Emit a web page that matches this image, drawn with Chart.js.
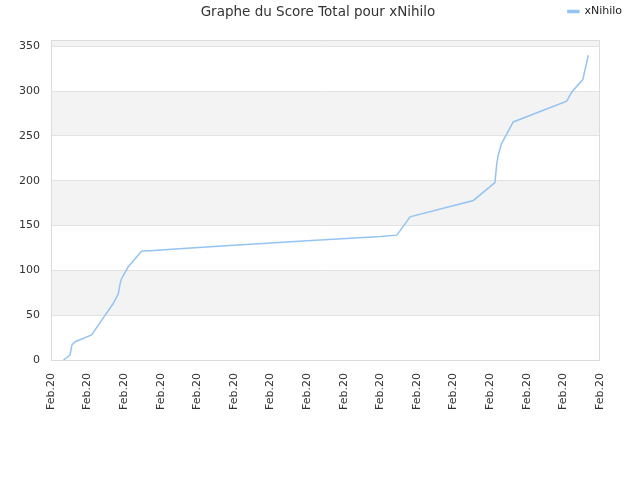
<!DOCTYPE html>
<html>
<head>
<meta charset="utf-8">
<script src="https://cdn.jsdelivr.net/npm/chart.js@4"></script>
<style>
  html, body { margin: 0; padding: 0; background: #fff; }
  #wrap { width: 640px; height: 480px; }
</style>
</head>
<body>
<div id="wrap"><canvas id="chart"></canvas></div>
<script>
// time position (in tick intervals from the first "Feb.20" label) and score
const timePos = [0.34, 0.52, 0.57, 0.66, 1.11, 1.48, 1.70, 1.84, 1.89, 1.93, 2.11, 2.48, 2.71,
  3.5, 5.0, 7.0, 9.0, 9.45, 9.81, 11.54, 12.13, 12.18, 12.22, 12.31, 12.63, 14.09, 14.23, 14.53, 14.68]
const scores = [0, 5.6, 16.7, 20.4, 27.9, 50, 63, 74, 85.5, 91, 104, 121.5, 122,
  124, 128, 133, 137.8, 139.3, 159.7, 178, 198, 219, 228.5, 241.5, 265.6, 288.7, 299, 312.8, 340]
const yTicks = [0, 50, 100, 150, 200, 250, 300, 350]
const tickCount = 16
const tickLabel = 'Feb.20'
const seriesName = 'xNihilo'
const titleText = 'Graphe du Score Total pour xNihilo'

const FONT = 'DejaVu Sans'
const LINE_COLOR = '#94c4f2'

// alternating grey bands behind the plot, plus the plot frame
const bandsPlugin = {
  id: 'bands',
  beforeDraw(chart) {
    const { ctx, chartArea, scales } = chart
    const y = scales.y
    ctx.save()
    ctx.fillStyle = '#f3f3f3'
    for (let v = 50; v < y.max; v += 100) {
      const top = y.getPixelForValue(Math.min(v + 50, y.max))
      const bottom = y.getPixelForValue(v)
      ctx.fillRect(chartArea.left, top, chartArea.right - chartArea.left, bottom - top)
    }
    ctx.restore()
  },
  afterDatasetsDraw(chart) {
    const { ctx, chartArea } = chart
    ctx.save()
    ctx.strokeStyle = '#dcdcdc'
    ctx.lineWidth = 1
    ctx.strokeRect(chartArea.left + 0.5, chartArea.top + 0.5,
      chartArea.right - chartArea.left - 1, chartArea.bottom - chartArea.top)
    ctx.restore()
  },
}

// legend sits on the title line, in the top right corner
const legendPlacement = {
  id: 'legendPlacement',
  beforeUpdate(chart) {
    const legend = chart.legend
    if (legend && !legend.__patched) {
      legend.__patched = true
      const fit = legend.fit
      legend.fit = function () {
        fit.call(this)
        this.height = 40
      }
    }
  },
  afterLayout(chart) {
    chart.legend.left += 28
    chart.legend.right += 28
  },
}

// title drawn on the same line as the legend
const titlePlugin = {
  id: 'inlineTitle',
  afterDraw(chart) {
    const { ctx } = chart
    ctx.save()
    ctx.font = '13.5px "' + FONT + '"'
    ctx.fillStyle = '#333'
    ctx.textAlign = 'center'
    ctx.textBaseline = 'middle'
    ctx.fillText(titleText, 318, 12)
    ctx.restore()
  },
}

new Chart(document.getElementById('chart'), {
  type: 'line',
  data: {
    datasets: [{
      label: seriesName,
      data: timePos.map((t, i) => ({ x: t, y: scores[i] })),
      borderColor: LINE_COLOR,
      backgroundColor: LINE_COLOR,
      borderWidth: 1.5,
      pointRadius: 0,
      tension: 0,
    }],
  },
  options: {
    responsive: true,
    maintainAspectRatio: false,
    animation: false,
    layout: { padding: { right: 40, top: 0 } },
    plugins: {
      legend: {
        position: 'top',
        align: 'end',
        labels: {
          boxWidth: 11,
          boxHeight: 2,
          padding: 6,
          color: '#222',
          font: { family: FONT, size: 11 },
        },
      },
      title: { display: false },
      tooltip: { enabled: false },
    },
    scales: {
      x: {
        type: 'linear',
        min: 0,
        max: tickCount - 1,
        afterBuildTicks(scale) {
          scale.ticks = Array.from({ length: tickCount }, (_, i) => ({ value: i }))
        },
        afterFit(scale) { scale.height = 120 },
        grid: { display: false },
        border: { display: false },
        ticks: {
          autoSkip: false,
          maxRotation: 90,
          minRotation: 90,
          padding: 5,
          color: '#333',
          font: { family: FONT, size: 11 },
          callback: () => tickLabel,
        },
      },
      y: {
        min: 0,
        max: 357,
        afterBuildTicks(scale) {
          scale.ticks = yTicks.map(v => ({ value: v }))
        },
        afterFit(scale) { scale.width = 51 },
        grid: { color: '#e3e3e3', drawTicks: false },
        border: { display: false },
        ticks: {
          padding: 11,
          color: '#333',
          font: { family: FONT, size: 11 },
        },
      },
    },
  },
  plugins: [bandsPlugin, legendPlacement, titlePlugin],
})
</script>
</body>
</html>
